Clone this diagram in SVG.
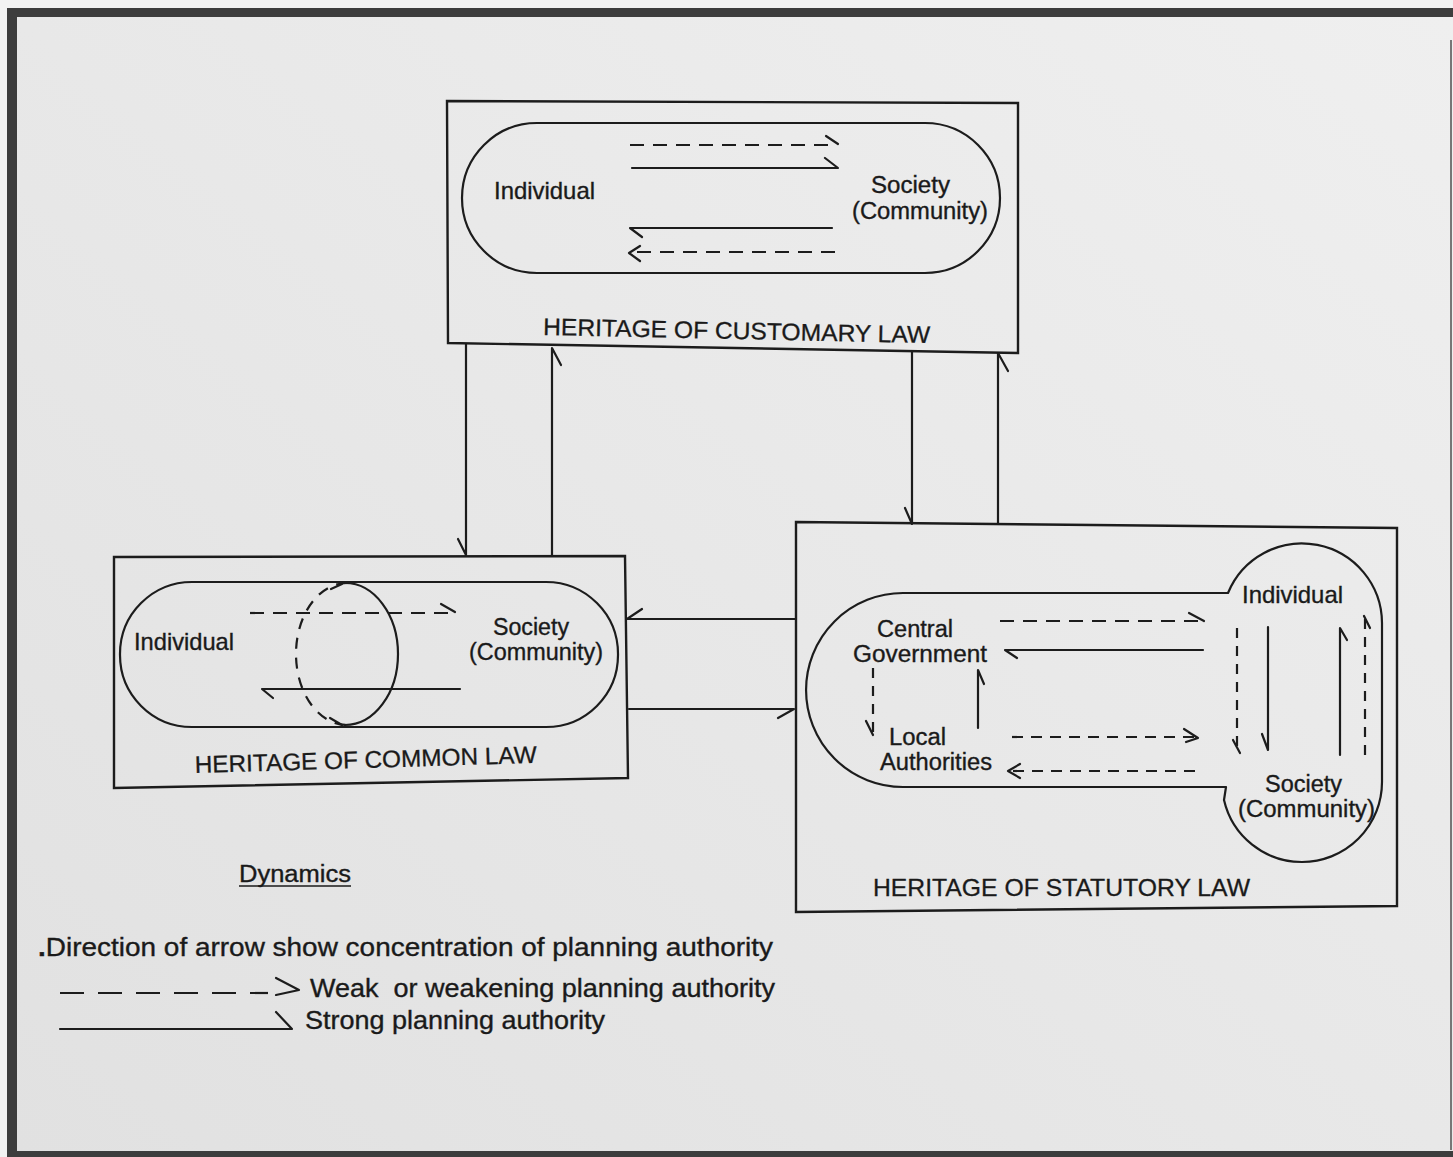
<svg xmlns="http://www.w3.org/2000/svg" width="1453" height="1157" viewBox="0 0 1453 1157">
  <defs>
    <linearGradient id="paper" x1="1" y1="0" x2="0" y2="1">
      <stop offset="0" stop-color="#efefef"/>
      <stop offset="1" stop-color="#e1e1e1"/>
    </linearGradient>
    <style>
      .ln { fill: none; stroke: #1c1c1c; stroke-width: 2.2; stroke-linecap: round; stroke-linejoin: round; }
      .dash { stroke-dasharray: 14 9; stroke-linecap: butt; }
      .box { fill: none; stroke: #1c1c1c; stroke-width: 2.4; }
      .lbl { font-family: "Liberation Sans", Arial, Helvetica, sans-serif; font-size: 24px; fill: #1a1a1a; stroke: #1a1a1a; stroke-width: 0.35; }
      .two { font-size: 23px; }
      .ttl { font-family: "Liberation Sans", Arial, Helvetica, sans-serif; font-size: 24px; fill: #1a1a1a; stroke: #1a1a1a; stroke-width: 0.3; }
      .leg { font-family: "Liberation Sans", Arial, Helvetica, sans-serif; font-size: 25px; fill: #1a1a1a; stroke: #1a1a1a; stroke-width: 0.35; }
    </style>
  </defs>

  <!-- sheet and frame -->
  <rect x="0" y="0" width="1453" height="1157" fill="#f2f2f2"/>
  <rect x="16" y="17" width="1437" height="1135" fill="url(#paper)"/>
  <rect x="7" y="8" width="1446" height="9" fill="#3d3d3d"/>
  <rect x="7" y="8" width="10" height="1149" fill="#3d3d3d"/>
  <rect x="7" y="1151" width="1446" height="6" fill="#3d3d3d"/>
  <line x1="1451" y1="40" x2="1451" y2="1150" stroke="#777" stroke-width="2"/>

  <!-- Heritage of customary law -->
  <g id="customary">
    <polygon class="box" points="447,101 1018,103 1018,353 448,343"/>
    <rect class="ln" x="462" y="123" width="538" height="150" rx="75" ry="75"/>
    <path class="ln dash" d="M630,145 H836"/>
    <path class="ln" d="M826,136 L838,144"/>
    <path class="ln" d="M632,168 H838 L825,158"/>
    <path class="ln" d="M832,228 H630 L642,237"/>
    <path class="ln dash" d="M835,252 H634"/>
    <path class="ln" d="M640,246 L629,253 L640,261"/>
    <text class="lbl" x="494" y="199" textLength="101" lengthAdjust="spacingAndGlyphs">Individual</text>
    <text class="lbl two" x="871" y="193" textLength="79" lengthAdjust="spacingAndGlyphs">Society</text>
    <text class="lbl two" x="852" y="219" textLength="136" lengthAdjust="spacingAndGlyphs">(Community)</text>
    <text class="ttl" x="543" y="335" textLength="387" lengthAdjust="spacingAndGlyphs" transform="rotate(1.2 543 335)">HERITAGE OF CUSTOMARY LAW</text>
  </g>

  <!-- Heritage of common law -->
  <g id="common">
    <polygon class="box" points="114,557 625,556 628,778 114,788"/>
    <rect class="ln" x="120" y="582" width="498" height="145" rx="72" ry="72"/>
    <path class="ln dash" d="M347,583 A51,71 0 0 0 347,725" style="stroke-dasharray:11 9"/>
    <path class="ln" d="M345,583 A53,71 0 0 1 345,725"/>
    <path class="ln" d="M331,589 L342,584"/>
    <path class="ln" d="M330,718 L342,725"/>
    <path class="ln dash" d="M250,613 H453"/>
    <path class="ln" d="M441,604 L455,612"/>
    <path class="ln" d="M460,689 H262 L273,698"/>
    <text class="lbl" x="134" y="650" textLength="100" lengthAdjust="spacingAndGlyphs">Individual</text>
    <text class="lbl two" x="493" y="635" textLength="76" lengthAdjust="spacingAndGlyphs">Society</text>
    <text class="lbl two" x="469" y="660" textLength="134" lengthAdjust="spacingAndGlyphs">(Community)</text>
    <text class="ttl" x="195" y="773" textLength="342" lengthAdjust="spacingAndGlyphs" transform="rotate(-1.7 195 773)">HERITAGE OF COMMON LAW</text>
  </g>

  <!-- Heritage of statutory law -->
  <g id="statutory">
    <polygon class="box" points="796,522 1397,528 1397,906 796,912"/>
    <path class="ln" d="M903,593 H1228 A80,80 0 0 1 1382,623 V782 A80,80 0 0 1 1302,862 A80,80 0 0 1 1224,800 L1226,787 H903 A97,97 0 0 1 903,593 Z"/>
    <path class="ln dash" d="M1000,621 H1200"/>
    <path class="ln" d="M1189,613 L1204,621"/>
    <path class="ln" d="M1203,650 H1005 L1017,658"/>
    <path class="ln dash" d="M873,668 V732" style="stroke-dasharray:10 8"/>
    <path class="ln" d="M866,721 L873,735"/>
    <path class="ln" d="M978,728 V670 L984,684"/>
    <path class="ln dash" d="M1012,737 H1195" style="stroke-dasharray:11 8"/>
    <path class="ln" d="M1184,729 L1198,738 L1186,742"/>
    <path class="ln dash" d="M1195,771 H1012" style="stroke-dasharray:11 8"/>
    <path class="ln" d="M1020,764 L1008,771 L1020,778"/>
    <path class="ln dash" d="M1237,628 V750" style="stroke-dasharray:10 8"/>
    <path class="ln" d="M1233,740 L1240,753"/>
    <path class="ln" d="M1268,627 V750 L1262,734"/>
    <path class="ln" d="M1340,755 V628 L1347,640"/>
    <path class="ln dash" d="M1365,755 V617" style="stroke-dasharray:10 8"/>
    <path class="ln" d="M1364,616 L1370,628"/>
    <text class="lbl two" x="877" y="637" textLength="76" lengthAdjust="spacingAndGlyphs">Central</text>
    <text class="lbl two" x="853" y="662" textLength="134" lengthAdjust="spacingAndGlyphs">Government</text>
    <text class="lbl two" x="889" y="745" textLength="57" lengthAdjust="spacingAndGlyphs">Local</text>
    <text class="lbl two" x="880" y="770" textLength="112" lengthAdjust="spacingAndGlyphs">Authorities</text>
    <text class="lbl" x="1242" y="603" textLength="101" lengthAdjust="spacingAndGlyphs">Individual</text>
    <text class="lbl two" x="1265" y="792" textLength="77" lengthAdjust="spacingAndGlyphs">Society</text>
    <text class="lbl two" x="1238" y="817" textLength="137" lengthAdjust="spacingAndGlyphs">(Community)</text>
    <text class="ttl" x="873" y="896" textLength="377" lengthAdjust="spacingAndGlyphs">HERITAGE OF STATUTORY LAW</text>
  </g>

  <!-- links between the three heritages -->
  <g id="connectors">
    <path class="ln" d="M466,344 V555 L458,539"/>
    <path class="ln" d="M552,556 V348 L561,365"/>
    <path class="ln" d="M912,352 V524 L905,508"/>
    <path class="ln" d="M998,524 V353 L1008,371"/>
    <path class="ln" d="M796,619 H627 L642,609"/>
    <path class="ln" d="M629,709 H794 L778,718"/>
  </g>

  <!-- key -->
  <g id="legend">
    <text class="leg" x="239" y="882" textLength="112" lengthAdjust="spacingAndGlyphs" style="font-size:23px">Dynamics</text>
    <line x1="239" y1="886" x2="351" y2="886" stroke="#1a1a1a" stroke-width="1.5"/>
    <text class="leg" x="38" y="956" textLength="735" lengthAdjust="spacingAndGlyphs"><tspan font-weight="bold">.</tspan>Direction of arrow show concentration of planning authority</text>
    <path class="ln" d="M60,993 H268" style="stroke-dasharray:24 14;stroke-linecap:butt"/>
    <path class="ln" d="M276,978 L299,990 L276,995"/>
    <text class="leg" x="310" y="997" textLength="465" lengthAdjust="spacingAndGlyphs" xml:space="preserve">Weak  or weakening planning authority</text>
    <path class="ln" d="M60,1029 H292 L276,1012"/>
    <text class="leg" x="305" y="1029" textLength="300" lengthAdjust="spacingAndGlyphs">Strong planning authority</text>
  </g>
</svg>
